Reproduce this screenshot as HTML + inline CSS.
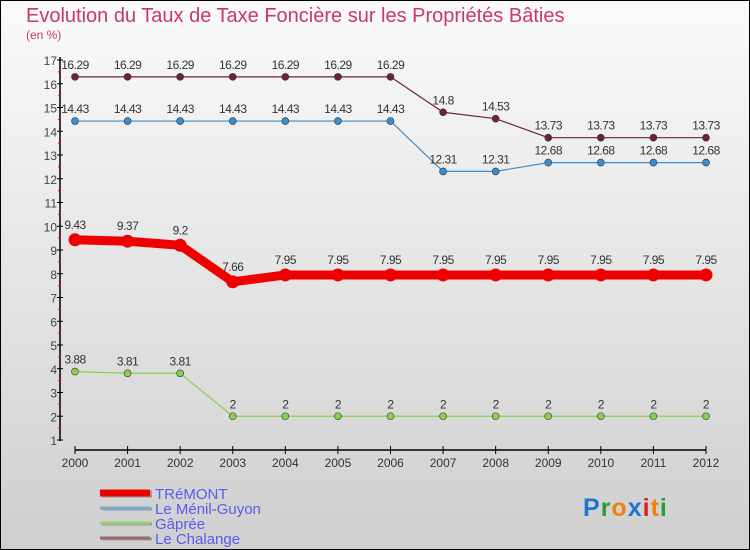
<!DOCTYPE html>
<html><head><meta charset="utf-8"><style>
html,body{margin:0;padding:0}
svg{display:block;font-family:"Liberation Sans",sans-serif}
</style></head><body>
<svg id="c" width="750" height="550">
<defs><linearGradient id="bg" x1="0" y1="0" x2="0" y2="1"><stop offset="0" stop-color="#fafafa"/><stop offset="1" stop-color="#cfcfcf"/></linearGradient></defs>
<rect x="0.5" y="0.5" width="749" height="549" fill="url(#bg)" stroke="#000"/>
<text x="26" y="22" font-size="20" fill="#c8386a">Evolution du Taux de Taxe Foncière sur les Propriétés Bâties</text>
<text x="26" y="39" font-size="12" fill="#c8386a">(en %)</text>
<g id="axes"></g><g id="series"></g><g id="legend"></g>
<text x="583" y="516" font-size="25" font-weight="bold" letter-spacing="1"><tspan fill="#1a78d0">P</tspan><tspan fill="#2a9a3a">r</tspan><tspan fill="#f08010">o</tspan><tspan fill="#1a78d0">x</tspan><tspan fill="#e02020">i</tspan><tspan fill="#f08010">t</tspan><tspan fill="#2a9a3a">i</tspan></text>
</svg>
<script>
const years=[2000,2001,2002,2003,2004,2005,2006,2007,2008,2009,2010,2011,2012];
const tremont=[9.43,9.37,9.2,7.66,7.95,7.95,7.95,7.95,7.95,7.95,7.95,7.95,7.95];
const menil=[14.43,14.43,14.43,14.43,14.43,14.43,14.43,12.31,12.31,12.68,12.68,12.68,12.68];
const gapree=[3.88,3.81,3.81,2,2,2,2,2,2,2,2,2,2];
const chalange=[16.29,16.29,16.29,16.29,16.29,16.29,16.29,14.8,14.53,13.73,13.73,13.73,13.73];
const yTicks=[1,2,3,4,5,6,7,8,9,10,11,12,13,14,15,16,17];
const NS="http://www.w3.org/2000/svg";
const x=i=>75+i*(706-75)/(years.length-1);
const y=v=>440-(v-1)*23.75;
function mk(t,a,p){const e=document.createElementNS(NS,t);for(const k in a)e.setAttribute(k,a[k]);p.appendChild(e);return e;}
const ax=document.getElementById('axes');
let l=mk('line',{x1:60,y1:57,x2:60,y2:441,stroke:'#000','stroke-width':1.5},ax);


yTicks.forEach(v=>{
 mk('line',{x1:57,y1:y(v),x2:63,y2:y(v),stroke:'#000'},ax);
 if(v<17)mk('line',{x1:58,y1:y(v+0.5),x2:61,y2:y(v+0.5),stroke:'#e00'},ax);
 const t=mk('text',{x:57,y:y(v)+5,'text-anchor':'end','font-size':12,fill:'#444'},ax);
 t.textContent=v;
 
 
});
l=mk('line',{x1:75,y1:450,x2:706,y2:450,stroke:'#000','stroke-width':1.5},ax);


years.forEach((yr,i)=>{
 mk('line',{x1:x(i),y1:446,x2:x(i),y2:454,stroke:'#000'},ax);
 const t=mk('text',{x:x(i),y:467,'text-anchor':'middle','font-size':12,fill:'#333'},ax);
 t.textContent=yr;
 
 
});
const sg=document.getElementById('series');
function series(vals,color,w,r,name){
 const g=mk('g',{},sg);
 
 
 mk('polyline',{points:vals.map((v,i)=>x(i)+','+y(v)).join(' '),fill:'none',stroke:color,'stroke-width':w,'stroke-linejoin':'round'},g);
 vals.forEach((v,i)=>{
  const c=mk('circle',{cx:x(i),cy:y(v),r:r,fill:color,stroke:'#333','stroke-width':r>4?0:0.6},g);
  
  
  const t=mk('text',{x:x(i),y:y(v)-(r>4?11:8),'text-anchor':'middle','font-size':12,fill:'#333','letter-spacing':-0.5},g);
  t.textContent=v;
  
  
 });
}
series(chalange,'#6e2430',1.2,3.5,'series-le-chalange');
series(menil,'#3a8ed0',1.2,3.5,'series-le-menil-guyon');
series(gapree,'#88d050',1.2,3.5,'series-gapree');
series(tremont,'#ee0000',9,6.5,'series-tremont');
const lg=document.getElementById('legend');
[['TRéMONT','#ee0000',7],['Le Ménil-Guyon','#7aaad0',3],['Gâprée','#99d070',3],['Le Chalange','#9a6a6a',3]].forEach((d,i)=>{
 const yy=493+i*15;
 const g=mk('g',{},lg);
 
 
 mk('line',{x1:102,y1:yy+1,x2:152,y2:yy+1,stroke:'#999','stroke-width':d[2]},g);
 mk('line',{x1:100,y1:yy,x2:150,y2:yy,stroke:d[1],'stroke-width':d[2]},g);
 const t=mk('text',{x:155,y:yy+6,'font-size':15,fill:'#5a5aee'},g);
 t.textContent=d[0];
});
</script>
</body></html>
